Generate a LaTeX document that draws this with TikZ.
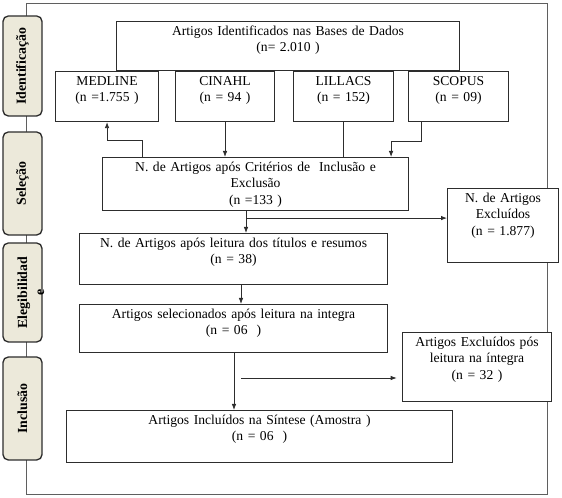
\documentclass[tikz,border=0pt]{standalone}
\usepackage{fontspec}
\setmainfont{Liberation Serif}
\usetikzlibrary{calc}
\usetikzlibrary{positioning}
\usetikzlibrary{arrows.meta}
\definecolor{tabfill}{RGB}{236,233,218}
\definecolor{linegray}{RGB}{45,45,45}
\definecolor{framegray}{RGB}{95,95,95}
\tikzset{
	>={Latex[length=4.5pt,width=3.4pt]},
	kasten/.style={
		rectangle, 
		draw=linegray, line width=0.8pt,
		fill=white,
		anchor=north west,
		inner xsep=2pt, inner ysep=3pt,
		text height=7.2pt,
		align=center,
		font=\fontsize{10.2}{12.4}\selectfont},
	reiter/.style={
		rectangle,
		rounded corners=4pt,
		draw=linegray, line width=1pt,
		fill=tabfill,
		rotate=90,
		minimum height=29.25pt},
	reitertext/.style={
		rotate=90, align=center,
		font=\bfseries\fontsize{10.4}{12.75}\selectfont},
	line/.style={draw=linegray, line width=0.6pt},
}
\begin{document}
\begin{tikzpicture}
	[x=0.75pt, y=-0.75pt]
	\useasboundingbox (0,0) rectangle (562,498);
	\draw[framegray, line width=0.7pt] (26,3) rectangle (547,494);
	
	% phases
	\node[reiter, minimum width=75pt] (tabident) at (22.5,66) {};
	\node[reitertext] (tabidenttext) at (tabident.center) {Identificação};
	\node[reiter, minimum width=77.25pt] (tabsel) at (22.5,183.5) {};
	\node[reitertext] (tabseltext) at (tabsel.center) {Seleção};
	\node[reiter, minimum width=74.25pt] (tabeleg) at (22.5,292.5) {};
	\node[reitertext] (tabelegtext) at (31,292.5) {Elegibilidad\\e};
	\node[reiter, minimum width=77.25pt] (tabincl) at (22.5,408.5) {};
	\node[reitertext] (tabincltext) at (tabincl.center) {Inclusão};
	
	% boxes
	\node[kasten, text width=253.25pt, text depth=23.55pt] (identificados) at (116,21) {Artigos Identificados nas Bases de Dados\\(n= 2.010 )};
	\node[kasten, text width=73.25pt, text depth=24.3pt] (medline) at (55,71) {MEDLINE\\(n =1.755 )};
	\node[kasten, text width=70.25pt, text depth=24.3pt] (cinahl) at (175,71) {CINAHL\\(n = 94 )};
	\node[kasten, text width=71pt, text depth=24.3pt] (lilacs) at (293,71) {LILLACS\\(n = 152)};
	\node[kasten, text width=71pt, text depth=24.3pt] (scopus) at (408,71) {SCOPUS\\(n = 09)};
	\node[kasten, text width=225.5pt, text depth=26.55pt] (criterios) at (102,157) {N. de Artigos após Critérios de\ \ Inclusão e\\Exclusão\\(n =133 )};
	\node[kasten, text width=79.25pt, text depth=42.3pt] (excluidos) at (447,188) {N. de Artigos\\Excluídos\\(n = 1.877)};
	\node[kasten, text width=227pt, text depth=25.05pt] (titulos) at (79,233) {N. de Artigos após leitura dos títulos e resumos\\(n = 38)};
	\node[kasten, text width=227pt, text depth=22.8pt] (selecionados) at (79,304) {Artigos selecionados após leitura na integra\\(n = 06\ \ )};
	\node[kasten, text width=107.75pt, text depth=38.55pt] (excluidosint) at (402,332) {Artigos Excluídos pós\\leitura na íntegra\\(n = 32 )};
	\node[kasten, text width=285.5pt, text depth=25.8pt] (incluidos) at (66,410) {Artigos Incluídos na Síntese (Amostra )\\(n = 06\ \ )};
	
	% connectors
	\draw[line, ->] ($(criterios.north west)+(40,0)$) -- ++(0,-17) -| (medline.south);
	\draw[line, ->] (cinahl.south) -- (cinahl.south |- criterios.north);
	\draw[line] (lilacs.south) -- (lilacs.south |- criterios.north);
	\draw[line, ->] ($(scopus.south west)+(13,0)$) -- ++(0,19) -| ($(criterios.north east)+(-18,0)$);
	\coordinate (teilung) at ($(criterios.south west)+(144,7)$);
	\draw[line, ->] ($(criterios.south west)+(144,0)$) -- (titulos.north -| teilung);
	\draw[line, ->] (teilung) -- (teilung -| excluidos.west);
	\draw[line, ->] ($(titulos.south west)+(162,0)$) coordinate (weiter) -- (weiter |- selecionados.north);
	\draw[line, ->] ($(selecionados.south west)+(155,0)$) coordinate (unten) -- (unten |- incluidos.north);
	\coordinate (frei) at (241,378);
	\draw[line, ->, shorten >=4pt] (frei) -- (frei -| excluidosint.west);
	
\end{tikzpicture}
\end{document}
